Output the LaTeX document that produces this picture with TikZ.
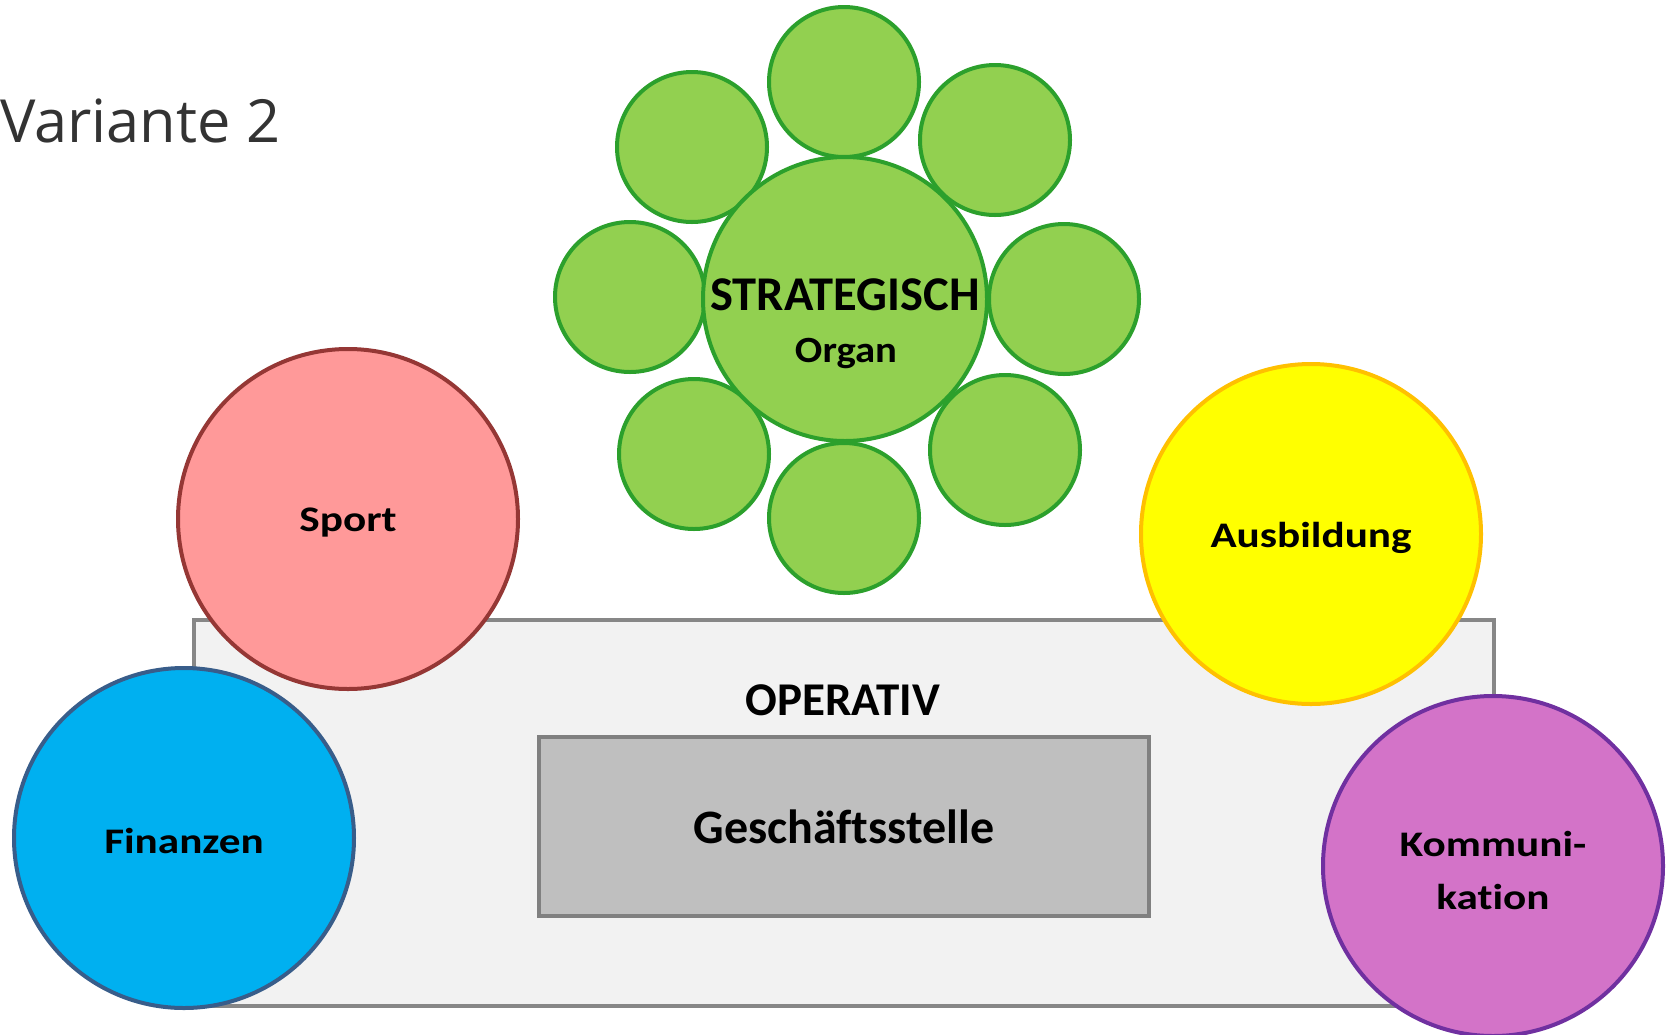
\documentclass[tikz,border=0pt]{standalone}
\usepackage{fontspec}
\setmainfont{Carlito}[Ligatures=NoCommon]
\newfontfamily\titlefont{Open Sans}
\newfontfamily\widefont[FakeStretch=1.2,Ligatures=NoCommon]{Carlito}
\newfontfamily\organfont[FakeStretch=1.1,Ligatures=NoCommon]{Carlito}
\definecolor{gfill}{RGB}{146,208,80}
\definecolor{gline}{RGB}{44,160,44}
\definecolor{sfill}{RGB}{255,153,153}
\definecolor{sline}{RGB}{149,55,53}
\definecolor{ffill}{RGB}{0,176,240}
\definecolor{fline}{RGB}{56,93,138}
\definecolor{afill}{RGB}{255,255,0}
\definecolor{aline}{RGB}{255,192,0}
\definecolor{kfill}{RGB}{211,115,200}
\definecolor{kline}{RGB}{112,48,160}
\definecolor{opfill}{RGB}{242,242,242}
\definecolor{opline}{RGB}{135,135,135}
\definecolor{gsfill}{RGB}{191,191,191}
\definecolor{gsline}{RGB}{128,128,128}
\definecolor{titlegray}{RGB}{51,51,51}
\tikzset{
  bubble/.style={circle, inner sep=0pt, minimum size=340pt, line width=4pt},
  bubbletext/.style={inner sep=0pt, font=\widefont\fontsize{36}{53}\selectfont\bfseries, align=center},
  petal/.style={circle, inner sep=0pt, minimum size=150pt, line width=4pt, fill=gfill, draw=gline},
  label/.style={font=\fontsize{47}{50}\selectfont\bfseries}
}
\begin{document}
\begin{tikzpicture}[x=1pt,y=-1pt]
\useasboundingbox (0,0) rectangle (1667,1034);
% operative area
\node[draw=opline, fill=opfill, line width=4pt, minimum width=1300pt, minimum height=386pt, inner sep=0pt] (op) at (843.5,813) {};
\node[label] (optext) at (843,700) {OPERATIV};
\node[draw=gsline, fill=gsfill, line width=4pt, minimum width=610pt, minimum height=179pt, inner sep=0pt,
      font=\fontsize{48}{50}\selectfont\bfseries] (gs) at (844,826.5) {Geschäftsstelle};
% title
\node[anchor=base west, inner sep=0pt, text=titlegray, font=\titlefont\fontsize{59.5}{66}\selectfont] (title) at (0,142) {Variante 2};
% green flower
\node[petal] (p1) at (844,82) {};
\node[petal] (p2) at (995,140) {};
\node[petal] (p3) at (1064,299) {};
\node[petal] (p4) at (1005,450) {};
\node[petal] (p5) at (844,518) {};
\node[petal] (p6) at (694,454) {};
\node[petal] (p7) at (630,297) {};
\node[petal] (p8) at (692,147) {};
\node[circle, inner sep=0pt, minimum size=284pt, line width=4pt, fill=gfill, draw=gline] (org) at (845,299) {};
\node[font=\fontsize{48.5}{52}\selectfont\bfseries, inner sep=0pt] (strat) at (845,295) {STRATEGISCH};
\node[font=\organfont\fontsize{37}{40}\selectfont\bfseries, inner sep=0pt] (organ) at (846,353) {Organ};
% departments
\node[bubble, fill=sfill, draw=sline] (sport) at (348,519) {};
\node[bubbletext] (sporttext) at ([yshift=-4pt]sport.center) {Sport};
\node[bubble, fill=ffill, draw=fline] (fin) at (184,838) {};
\node[bubbletext] (fintext) at ([yshift=-3pt]fin.center) {Finanzen};
\node[bubble, fill=afill, draw=aline] (aus) at (1311,534) {};
\node[bubbletext] (austext) at ([yshift=-4pt]aus.center) {Ausbildung};
\node[bubble, fill=kfill, draw=kline] (kom) at (1493,866) {};
\node[bubbletext] (komtext) at ([yshift=-4pt]kom.center) {Kommuni-\\kation};
\end{tikzpicture}
\end{document}
